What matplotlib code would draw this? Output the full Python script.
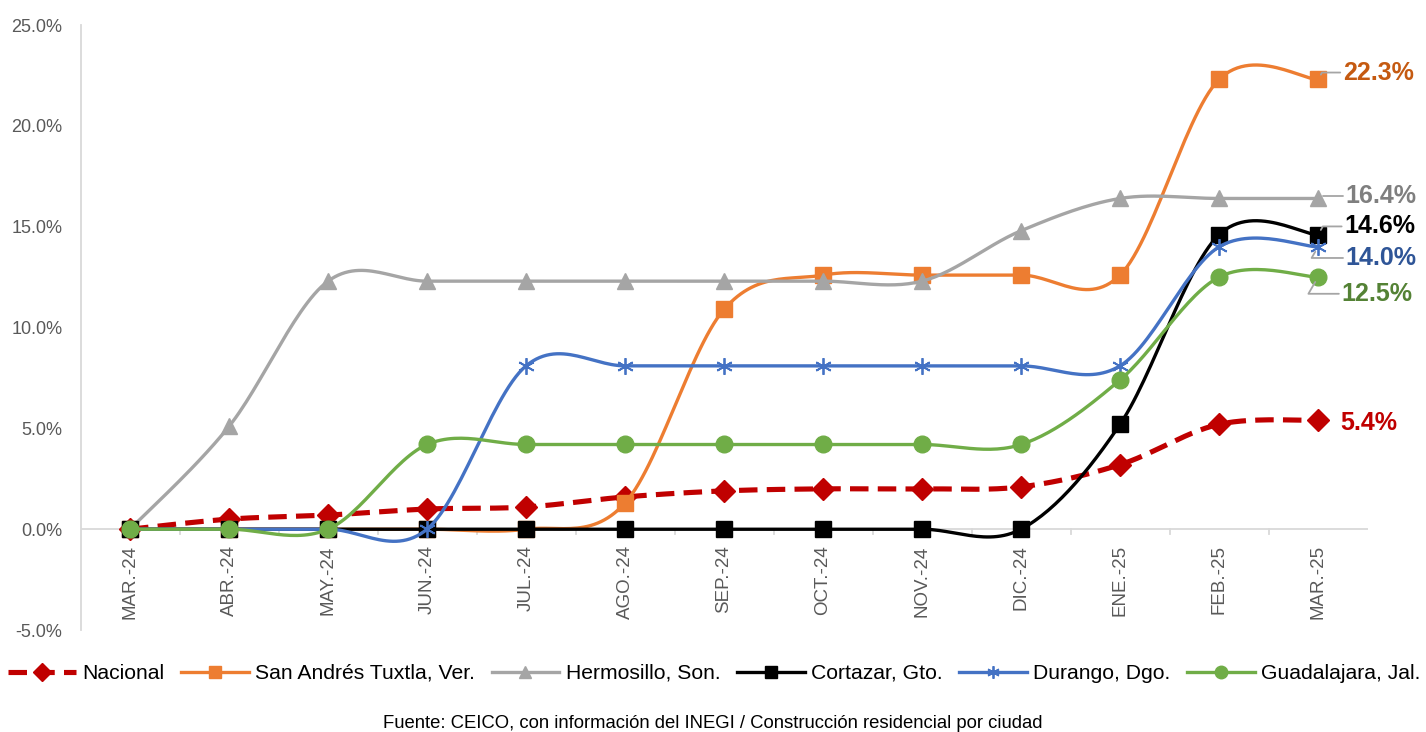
import numpy as np
import matplotlib.pyplot as plt
from matplotlib.ticker import FuncFormatter, FixedLocator

plt.rcParams['font.family'] = ['Liberation Sans', 'DejaVu Sans']

meses = ['MAR.-24', 'ABR.-24', 'MAY.-24', 'JUN.-24', 'JUL.-24', 'AGO.-24', 'SEP.-24',
         'OCT.-24', 'NOV.-24', 'DIC.-24', 'ENE.-25', 'FEB.-25', 'MAR.-25']

nacional = [0.0, 0.5, 0.7, 1.0, 1.1, 1.6, 1.9, 2.0, 2.0, 2.1, 3.2, 5.2, 5.4]
san_andres = [0.0, 0.0, 0.0, 0.0, 0.0, 1.3, 10.9, 12.6, 12.6, 12.6, 12.6, 22.3, 22.3]
hermosillo = [0.0, 5.1, 12.3, 12.3, 12.3, 12.3, 12.3, 12.3, 12.3, 14.8, 16.4, 16.4, 16.4]
cortazar = [0.0, 0.0, 0.0, 0.0, 0.0, 0.0, 0.0, 0.0, 0.0, 0.0, 5.2, 14.6, 14.6]
durango = [0.0, 0.0, 0.0, 0.0, 8.1, 8.1, 8.1, 8.1, 8.1, 8.1, 8.1, 14.0, 14.0]
guadalajara = [0.0, 0.0, 0.0, 4.2, 4.2, 4.2, 4.2, 4.2, 4.2, 4.2, 7.4, 12.5, 12.5]

# nombre, datos, color, marcador, color etiqueta, desplazamiento etiqueta (pt), guia
series = [
    ('Nacional', nacional, '#C00000', 'D', '#C00000', (16, -2), False),
    ('San Andrés Tuxtla, Ver.', san_andres, '#ED7D31', 's', '#C55A11', (18, 5), True),
    ('Hermosillo, Son.', hermosillo, '#A5A5A5', '^', '#7F7F7F', (20, 2), True),
    ('Cortazar, Gto.', cortazar, '#000000', 's', '#000000', (19, 6), True),
    ('Durango, Dgo.', durango, '#4472C4', (6, 2, 0), '#2F5597', (20, -8), True),
    ('Guadalajara, Jal.', guadalajara, '#70AD47', 'o', '#548235', (17, -12), True),
]


def suavizar(x, y, n=30):
    # curva tipo Excel (Catmull-Rom con beziers cubicas)
    p = np.column_stack([x, y]).astype(float)
    verts = [p[0]]
    for i in range(len(p) - 1):
        p0 = p[i - 1] if i > 0 else p[i]
        p1, p2 = p[i], p[i + 1]
        p3 = p[i + 2] if i + 2 < len(p) else p[i + 1]
        b1 = p1 + (p2 - p0) / 6
        b2 = p2 - (p3 - p1) / 6
        t = np.linspace(0, 1, n)[1:, None]
        seg = (1 - t) ** 3 * p1 + 3 * (1 - t) ** 2 * t * b1 + 3 * (1 - t) * t ** 2 * b2 + t ** 3 * p2
        verts.extend(seg)
    v = np.array(verts)
    return v[:, 0], v[:, 1]


fig = plt.figure(figsize=(14.26, 7.32), dpi=100)
ax = fig.add_axes([0.0565, 0.1393, 0.9025, 0.8265])

x = np.arange(len(meses))
handles = []
for k, (nombre, datos, color, marca, c_etq, off, guia) in enumerate(series):
    xs, ys = suavizar(x, datos)
    nac = nombre == 'Nacional'
    ls = (0, (3.6, 1.8)) if nac else '-'
    lw = 3.7 if nac else 2.4
    mew = 1.3 if marca == (6, 2, 0) else 1
    ax.plot(xs, ys, color=color, lw=lw, ls=ls, zorder=3 + k)
    ax.plot(x, datos, ls='none', marker=marca, ms=12 if marca != 'D' else 11,
            color=color, mew=mew, zorder=3 + k)
    h, = ax.plot([], [], color=color, lw=lw, ls=ls, marker=marca, ms=9, mew=mew, label=nombre)
    handles.append(h)
    txt = f'{datos[-1]:.1f}%'
    props = None
    if guia:
        props = dict(arrowstyle='-', color='#A5A5A5', lw=1.3, shrinkA=0, shrinkB=4,
                     connectionstyle='angle,angleA=0,angleB=60,rad=0')
    ax.annotate(txt, xy=(x[-1], datos[-1]), xytext=off, textcoords='offset points',
                ha='left', va='center', fontsize=18, fontweight='bold', color=c_etq,
                arrowprops=props, zorder=10)

ax.set_xlim(-0.5, len(meses) - 0.5)
ax.set_ylim(-5, 25)
ax.yaxis.set_major_locator(FixedLocator(np.arange(-5, 26, 5)))
ax.yaxis.set_major_formatter(FuncFormatter(lambda v, p: f'{v:.1f}%'))
ax.tick_params(axis='y', length=0, labelsize=13, labelcolor='#595959', pad=13)

for s in ['top', 'right', 'bottom']:
    ax.spines[s].set_visible(False)
ax.spines['left'].set_color('#D9D9D9')
ax.spines['left'].set_linewidth(1.3)
ax.axhline(0, color='#D9D9D9', lw=1.3, zorder=1)
for b in np.arange(0.5, len(meses) - 0.5, 1):
    ax.plot([b, b], [0, -0.25], color='#D9D9D9', lw=1.3, zorder=1)

ax.set_xticks(x)
ax.set_xticklabels([])
ax.tick_params(axis='x', length=0)
for i, m in enumerate(meses):
    ax.text(i, -0.8, m, rotation=90, ha='center', va='top', fontsize=13.5,
            color='#595959')

fig.legend(handles=handles, loc='center', bbox_to_anchor=(0.501, 0.080), ncol=6,
           frameon=False, fontsize=15.2, handlelength=3.2, columnspacing=0.8,
           handletextpad=0.3, borderaxespad=0, borderpad=0)
fig.text(0.5, 0.012, 'Fuente: CEICO, con información del INEGI / Construcción residencial por ciudad',
         ha='center', va='center', fontsize=13.3, color='#000000')

fig.savefig('out.png', dpi=100)
